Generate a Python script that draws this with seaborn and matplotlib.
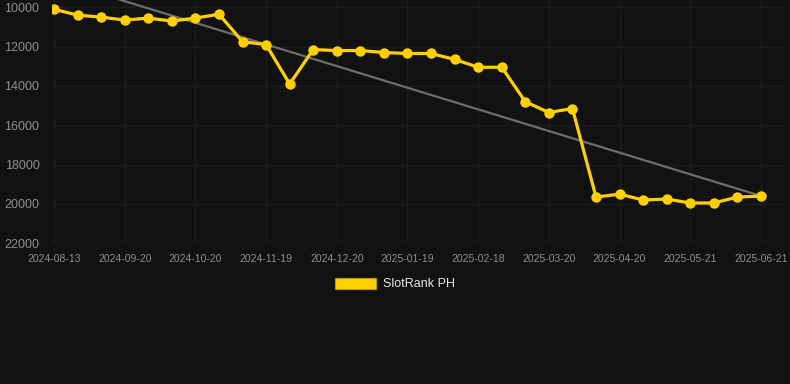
import matplotlib
matplotlib.use("Agg")
import matplotlib.pyplot as plt
from matplotlib.patches import Patch
import seaborn as sns
import pandas as pd
import numpy as np

# ---- data ----
ranks = [10100, 10400, 10500, 10650, 10550, 10700, 10550, 10350, 11750, 11900,
         13900, 12150, 12200, 12200, 12300, 12350, 12350, 12650, 13050, 13050,
         14800, 15350, 15150, 19650, 19500, 19800, 19750, 19950, 19950, 19650,
         19600]
tick_labels = ["2024-08-13", "2024-09-20", "2024-10-20", "2024-11-19", "2024-12-20",
               "2025-01-19", "2025-02-18", "2025-03-20", "2025-04-20", "2025-05-21",
               "2025-06-21"]
y_ticks = [10000, 12000, 14000, 16000, 18000, 20000, 22000]
series_name = "SlotRank PH"

df = pd.DataFrame({"idx": np.arange(len(ranks)), "rank": ranks})

BG = "#121212"
YELLOW = "#FFD000"
GRID = "#1d1d1d"
TEXT = "#8f8f8f"

sns.set_style("dark")
plt.rcParams["font.family"] = ["Liberation Sans", "DejaVu Sans"]

fig = plt.figure(figsize=(7.9, 3.84), dpi=100, facecolor=BG)
ax = fig.add_axes([52 / 790, 1 - 243.3 / 384, 733 / 790, 243.3 / 384])
ax.set_facecolor(BG)

sns.regplot(data=df, x="idx", y="rank", scatter=False, ci=None, ax=ax,
            line_kws=dict(color="#6e6e6e", lw=1.6, zorder=2))
sns.lineplot(data=df, x="idx", y="rank", ax=ax, color=YELLOW, lw=2.3,
             marker="o", markersize=7.5, markeredgewidth=0, zorder=3)

ax.set_ylim(22000, 9630)
ax.set_xlim(-0.085, 31.02)
ax.set_yticks(y_ticks)
ax.set_yticklabels([str(v) for v in y_ticks], fontsize=9, color=TEXT)
ax.set_xticks(np.arange(0, len(ranks), 3))
ax.set_xticklabels(tick_labels, fontsize=7.5, color=TEXT)
ax.set_xlabel("")
ax.set_ylabel("")
ax.grid(True, color=GRID, lw=1)
for s in ax.spines.values():
    s.set_visible(False)
ax.axhline(22000, color="#262626", lw=1, zorder=1)
ax.tick_params(axis="x", length=5, color=GRID, pad=3)
ax.tick_params(axis="y", length=0, pad=9)

handles = [Patch(facecolor=YELLOW, edgecolor="#b89a00", lw=0.8)]
fig.legend(handles, [series_name], loc="center", bbox_to_anchor=(0.5, 1 - 284 / 384),
           frameon=False, fontsize=9, labelcolor="#e6e6e6",
           handlelength=3.3, handleheight=1.0, handletextpad=0.55)

fig.savefig("out.png", dpi=100, facecolor=BG)
